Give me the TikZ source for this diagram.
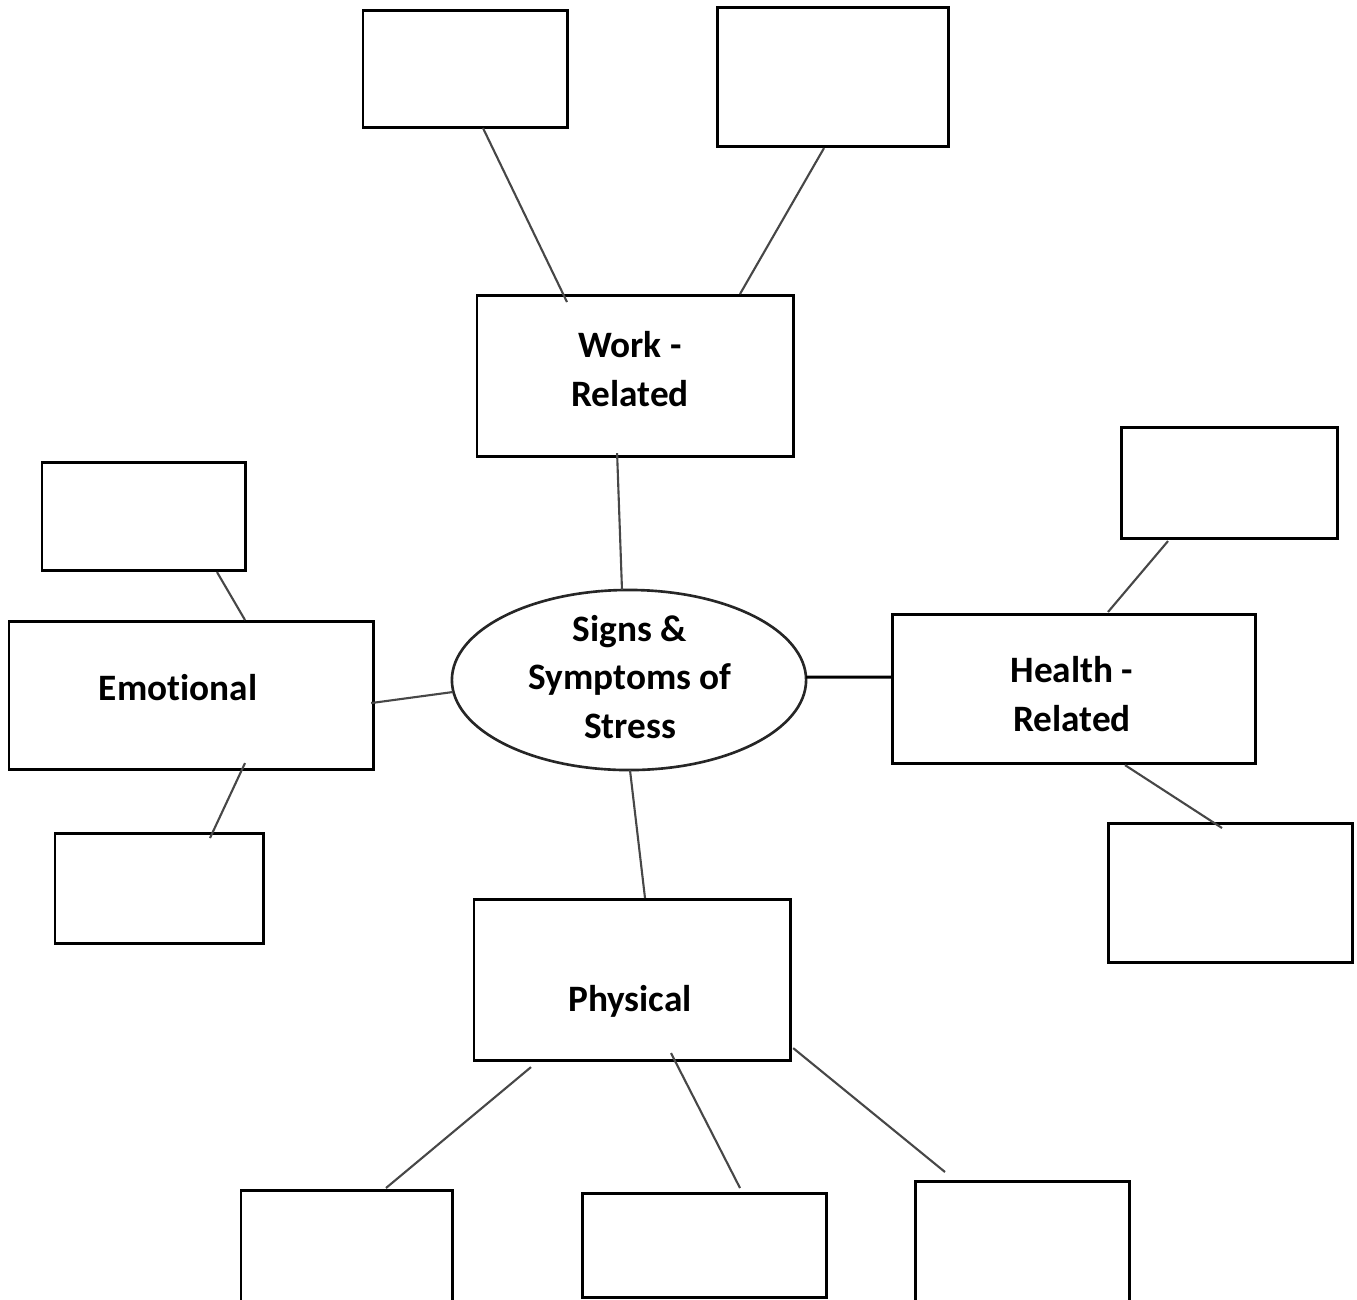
\documentclass[tikz,border=0pt]{standalone}
\usepackage{fontspec}
\setmainfont[Ligatures=NoCommon]{Carlito}
\usetikzlibrary{shapes.geometric}
\begin{document}
\begin{tikzpicture}[x=0.01cm,y=-0.01cm,
  box/.style={draw=black,line width=0.85pt,anchor=north west,inner sep=0pt,outer sep=0pt},
  hub/.style={ellipse,draw=black!85,line width=0.75pt,inner sep=0pt,outer sep=0pt,
    minimum width=3.54cm,minimum height=1.80cm},
  link/.style={draw=black!72,line width=0.6pt},
  heavy link/.style={draw=black,line width=0.85pt},
  caption/.style={font=\bfseries\fontsize{10.6}{13.7}\selectfont,align=center,inner sep=0pt}]
\useasboundingbox (0,0) rectangle (1357,1299);
\clip (0,0) rectangle (1357,1299);

% central ellipse
\node[hub] (hub) at (629,680) {};
\node[caption] (hubt) at (630,677) {Signs \&\\Symptoms of\\Stress};

% Work-related branch
\node[box,minimum width=3.16cm,minimum height=1.61cm] (work) at (477,295) {};
\node[caption] (workt) at (630,369) {Work -\\Related};
\node[box,minimum width=2.04cm,minimum height=1.17cm] (wtl) at (363,10) {};
\node[box,minimum width=2.31cm,minimum height=1.39cm] (wtr) at (717,7) {};

% Emotional branch
\node[box,minimum width=3.64cm,minimum height=1.48cm] (emo) at (9,621) {};
\node[caption] (emot) at (178,688) {Emotional};
\node[box,minimum width=2.03cm,minimum height=1.08cm] (etop) at (42,462) {};
\node[box,minimum width=2.08cm,minimum height=1.10cm] (ebot) at (55,833) {};

% Health-related branch
\node[box,minimum width=3.63cm,minimum height=1.49cm] (hea) at (892,614) {};
\node[caption] (heat) at (1072,694) {Health -\\Related};
\node[box,minimum width=2.16cm,minimum height=1.11cm] (htop) at (1121,427) {};
\node[box,minimum width=2.44cm,minimum height=1.39cm] (hbot) at (1108,823) {};

% Physical branch
\node[box,minimum width=3.16cm,minimum height=1.61cm] (phy) at (474,899) {};
\node[caption] (phyt) at (630,1001) {Physical};
\node[box,minimum width=2.11cm,minimum height=1.40cm] (pl) at (241,1190) {};
\node[box,minimum width=2.44cm,minimum height=1.04cm] (pm) at (582,1193) {};
\node[box,minimum width=2.14cm,minimum height=1.50cm] (pr) at (915,1181) {};

% connectors
\draw[link] ([shift={(120,1)}]wtl.south west) -- ([shift={(90,7)}]work.north west);
\draw[link] ([shift={(107,2)}]wtr.south west) -- ([shift={(263,-1)}]work.north west);
\draw[link] ([shift={(-18,-3)}]work.south) -- ([shift={(-7,0)}]hub.north);

\draw[link] ([shift={(1,12)}]hub.west) -- ([shift={(-2,8)}]emo.east);
\draw[link] ([shift={(175,2)}]etop.south west) -- ([shift={(236,-1)}]emo.north west);
\draw[link] ([shift={(236,-6)}]emo.south west) -- ([shift={(155,5)}]ebot.north west);

\draw[heavy link] ([shift={(0,-3)}]hub.east) -- ([shift={(0,-11.5)}]hea.west);
\draw[link] ([shift={(47,3)}]htop.south west) -- ([shift={(216,-2)}]hea.north west);
\draw[link] ([shift={(233,2)}]hea.south west) -- ([shift={(114,5)}]hbot.north west);

\draw[link] ([shift={(1,0)}]hub.south) -- ([shift={(171,-1)}]phy.north west);
\draw[link] ([shift={(57,7)}]phy.south west) -- ([shift={(145,-2)}]pl.north west);
\draw[link] ([shift={(197,-7)}]phy.south west) -- ([shift={(158,-5)}]pm.north west);
\draw[link] ([shift={(3,-12)}]phy.south east) -- ([shift={(30,-9)}]pr.north west);
\end{tikzpicture}
\end{document}
